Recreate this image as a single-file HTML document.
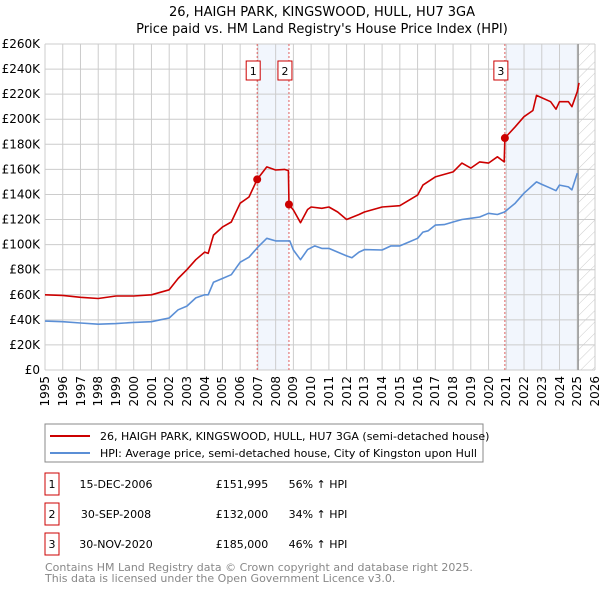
<!DOCTYPE html>
<html><head><meta charset="utf-8"><style>
body{margin:0;background:#fff;width:600px;height:590px;overflow:hidden;font-family:"DejaVu Sans","Liberation Sans",sans-serif;position:relative;}
svg text{font-family:"DejaVu Sans","Liberation Sans",sans-serif;}
#c{position:absolute;left:0;top:0;}
.xl{position:absolute;top:376px;width:40px;height:14px;font-size:12px;line-height:14px;text-align:right;transform-origin:0 0;transform:rotate(-90deg);white-space:nowrap;}
</style></head><body>
<svg id="c" width="600" height="590">
<defs><pattern id="hatch" width="8" height="8" patternUnits="userSpaceOnUse" patternTransform="rotate(45)"><line x1="0" y1="0" x2="0" y2="8" stroke="#ccc" stroke-width="1"/></pattern></defs>
<text x="322" y="16" text-anchor="middle" font-size="13">26, HAIGH PARK, KINGSWOOD, HULL, HU7 3GA</text>
<text x="322" y="33" text-anchor="middle" font-size="13">Price paid vs. HM Land Registry's House Price Index (HPI)</text>
<g id="grid"></g><g id="marks"></g>
<rect x="45" y="424" width="438" height="38" fill="#fff" stroke="#888"/>
<line x1="50" y1="436" x2="90" y2="436" stroke="#cc0000" stroke-width="2"/>
<text x="100" y="440" font-size="11">26, HAIGH PARK, KINGSWOOD, HULL, HU7 3GA (semi-detached house)</text>
<line x1="50" y1="453" x2="90" y2="453" stroke="#5b8fd6" stroke-width="2"/>
<text x="100" y="457" font-size="11">HPI: Average price, semi-detached house, City of Kingston upon Hull</text>
<g id="table" font-size="11"></g>
<text x="45" y="571" font-size="11" fill="#888">Contains HM Land Registry data © Crown copyright and database right 2025.</text>
<text x="45" y="582" font-size="11" fill="#888">This data is licensed under the Open Government Licence v3.0.</text>
</svg>
<div id="xlabels"></div>
<script>
const hpiYears=[1995,1996,1997,1998,1999,1999.5,2000,2001,2001.5,2002,2002.5,2003,2003.5,2004,2004.2,2004.5,2005,2005.5,2006,2006.5,2007,2007.5,2008,2008.5,2008.8,2009,2009.4,2009.8,2010.2,2010.6,2011,2011.5,2012,2012.3,2012.7,2013,2014,2014.5,2015,2015.5,2016,2016.3,2016.6,2017,2017.5,2018,2018.5,2019,2019.5,2020,2020.5,2020.9,2021.5,2022,2022.7,2023,2023.5,2023.8,2024,2024.5,2024.7,2025];
const hpiValues=[39,38.5,37.5,36.5,37,37.5,38,38.5,40,41.5,48,51,57.5,60,60,70,73,76,86,90,98,105,103,103,103,95.7,88,96,99,97,97,94,91,89.6,94,96,95.7,99,99,102,105,110,111,115.6,116,118,120,121,122,125,124,126,133,141,150,148,145,143,147.5,146,143.6,157];
const priceYears=[1995,1996,1997,1998,1999,2000,2001,2001.5,2002,2002.5,2003,2003.5,2004,2004.2,2004.5,2005,2005.5,2006,2006.5,2006.96,2007.5,2008,2008.5,2008.72,2008.75,2009,2009.4,2009.8,2010,2010.6,2011,2011.5,2012,2012.7,2013,2014,2015,2016,2016.3,2017,2018,2018.5,2019,2019.5,2020,2020.5,2020.88,2020.92,2021.5,2022,2022.5,2022.7,2023.5,2023.8,2024,2024.5,2024.7,2025,2025.1];
const priceValues=[60,59.5,58,57,59,59,60,62,64,73,80,88,94,93,107.6,114,118,133,138,152,162,159.5,160,159,132,127.6,117.5,128,130,129,130,126,120,124,126,130,131,139.5,147.5,154,158,165,161,166,165,170,166,185,194,202,207,219,214,208,214,214,210,222,229];
const saleYears=[2006.96,2008.75,2020.92];
const saleValues=[151.995,132,185];
const saleLabels=["1","2","3"];
const saleDates=["15-DEC-2006","30-SEP-2008","30-NOV-2020"];
const salePrices=["£151,995","£132,000","£185,000"];
const saleHpi=["56% ↑ HPI","34% ↑ HPI","46% ↑ HPI"];
const yTicks=[0,20,40,60,80,100,120,140,160,180,200,220,240,260];
const xTicks=[1995,1996,1997,1998,1999,2000,2001,2002,2003,2004,2005,2006,2007,2008,2009,2010,2011,2012,2013,2014,2015,2016,2017,2018,2019,2020,2021,2022,2023,2024,2025,2026];
const X0=45,X1=595,Y0=370,Y1=44;
const xs=y=>X0+(y-1995)/(2026-1995)*(X1-X0);
const ys=v=>Y0-v/260*(Y0-Y1);
const NS="http://www.w3.org/2000/svg";
function mk(p,t,a){const e=document.createElementNS(NS,t);for(const k in a)e.setAttribute(k,a[k]);p.appendChild(e);return e;}
const g=document.getElementById('grid'),m=document.getElementById('marks'),tb=document.getElementById('table'),xl=document.getElementById('xlabels');
let s=mk(g,'rect',{x:xs(saleYears[0]),y:Y1,width:xs(saleYears[1])-xs(saleYears[0]),height:Y0-Y1,fill:'#f2f6fd'});


s=mk(g,'rect',{x:xs(saleYears[2]),y:Y1,width:xs(2025.05)-xs(saleYears[2]),height:Y0-Y1,fill:'#f2f6fd'});


s=mk(g,'rect',{x:xs(2025.05),y:Y1,width:X1-xs(2025.05),height:Y0-Y1,fill:'url(#hatch)'});


yTicks.forEach(v=>{
 const l=mk(g,'line',{x1:X0,x2:X1,y1:ys(v),y2:ys(v),stroke:'#ccc'});
 
 
 const t=mk(g,'text',{x:40,y:ys(v)+4,'text-anchor':'end','font-size':'12'});
 t.textContent=v===0?'£0':'£'+v+'K';
 
 
});
xTicks.forEach(y=>{
 const l=mk(g,'line',{x1:xs(y),x2:xs(y),y1:Y1,y2:Y0,stroke:'#ccc'});
 
 
 const d=document.createElement('div');
 d.className='xl';
 d.style.left=(xs(y)-7).toFixed(1)+'px';
 d.style.top='416px';
 d.textContent=y;
 
 
 xl.appendChild(d);
});
let v=mk(g,'line',{x1:xs(2025.05),x2:xs(2025.05),y1:Y1,y2:Y0,stroke:'#999','stroke-width':1.5});


saleYears.forEach((y,i)=>{
 const l=mk(g,'line',{x1:xs(y),x2:xs(y),y1:Y1,y2:Y0,stroke:'#e06060','stroke-dasharray':'2,2'});
 
 
 const bx=xs(y)-11;
 const r=mk(g,'rect',{x:bx,y:61,width:14,height:19,fill:'#fff',stroke:'#c00'});
 
 
 const t=mk(g,'text',{x:bx+7,y:75,'text-anchor':'middle','font-size':'11'});
 t.textContent=saleLabels[i];
 
 
});
function path(xa,va,c,n){const d=xa.map((y,i)=>(i?'L':'M')+xs(y).toFixed(1)+','+ys(va[i]).toFixed(1)).join('');
 const p=mk(m,'path',{d,fill:'none',stroke:c,'stroke-width':1.6,'stroke-linejoin':'round'});
 
 }
path(hpiYears,hpiValues,'#5b8fd6','hpi-line');
path(priceYears,priceValues,'#cc0000','price-paid-line');
saleYears.forEach((y,i)=>{
 const c=mk(m,'circle',{cx:xs(y),cy:ys(saleValues[i]),r:4,fill:'#cc0000'});
 
 
 const cy=[483,513,543][i];
 const r=mk(tb,'rect',{x:45,y:cy-10,width:14,height:22,fill:'#fff',stroke:'#c00'});
 
 
 const cells=[[52,saleLabels[i]],[116,saleDates[i]],[242,salePrices[i]],[318,saleHpi[i]]];
 cells.forEach(([x,tx],j)=>{const t=mk(tb,'text',{x:x,y:cy+5,'text-anchor':'middle'});t.textContent=tx;
 
 });
});
</script>
</body></html>
